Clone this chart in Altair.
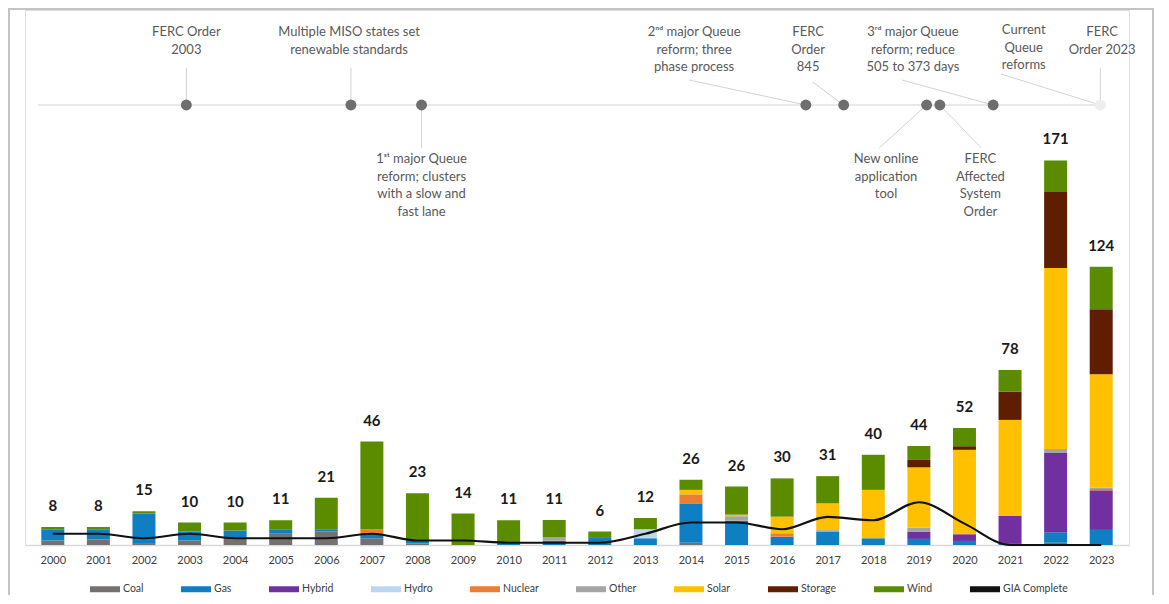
import altair as alt
import pandas as pd

# ---------------- data ----------------
years = list(range(2000, 2024))
types = ["Coal", "Gas", "Hybrid", "Hydro", "Nuclear", "Other", "Solar", "Storage", "Wind"]
colors = ["#767171", "#0f7fc4", "#7030a0", "#bdd7ee", "#ed7d31", "#a5a5a5", "#ffc000", "#5f1e00", "#5b8c00"]

coal    = [2, 2.5, 0.5, 2, 3.3, 5, 6, 3, 0.7, 0, 0, 0, 0, 0, 1, 0, 0, 0, 0, 0, 0, 0, 1, 0]
gas     = [5, 4.5, 13.5, 4, 3.1, 2, 1, 2, 1.8, 0, 1, 1.9, 3.5, 3, 17.5, 10.8, 3.7, 5.8, 3, 2.7, 1.8, 0.5, 4.6, 6.7]
hybrid  = [0] * 19 + [3.1, 3, 12.4, 35.3, 17.6]
hydro   = [0] * 13 + [4] + [0] * 10
nuclear = [0, 0, 0, 0, 0, 0, 0, 2, 0, 0, 0, 0, 0, 0, 4, 0, 1.5, 0, 0, 0, 0, 0, 0, 0.6]
other   = [0, 0, 0, 0, 0, 0, 0, 0, 0, 0, 0, 1.5, 0, 0, 0, 2, 0, 0.8, 0, 1.9, 0, 0, 1.8, 0.6]
solar   = [0] * 14 + [2, 0.7, 7.4, 11.9, 21.5, 26.8, 37.5, 42.7, 80.4, 50.4]
storage = [0] * 19 + [3.3, 1.6, 12.6, 33.8, 28.9]
wind    = [1, 1, 1, 4, 3.6, 4, 14, 39, 20.5, 14, 10, 7.7, 2.5, 5, 4.5, 12.5, 17, 12.1, 15.6, 6.2, 8.1, 9.6, 14, 18.9]

bar_labels = [8, 8, 15, 10, 10, 11, 21, 46, 23, 14, 11, 11, 6, 12, 26, 26, 30, 31, 40, 44, 52, 78, 171, 124]
gia_complete = [5, 5, 3, 5, 3, 3, 3, 5, 2, 2, 1, 1, 1, 5, 10, 10, 7, 12.5, 11, 19, 9.5, 0, 0, 0]

# timeline annotations (positions in fractional years)
ev_text = [
    "FERC Order\n2003",
    "Multiple MISO states set\nrenewable standards",
    "1ˢᵗ major Queue\nreform; clusters\nwith a slow and\nfast lane",
    "2ⁿᵈ major Queue\nreform; three\nphase process",
    "FERC\nOrder\n845",
    "New online\napplication\ntool",
    "FERC\nAffected\nSystem\nOrder",
    "3ʳᵈ major Queue\nreform; reduce\n505 to 373 days",
    "Current\nQueue\nreforms",
    "FERC\nOrder 2023",
]
ev_pos    = [2002.93, 2006.54, 2008.09, 2016.52, 2017.35, 2019.17, 2019.46, 2020.63, 2022.98, 2022.98]
ev_status = ["past"] * 8 + ["pending", "pending"]
ev_label_x = [2002.93, 2006.50, 2008.09, 2014.07, 2016.57, 2018.28, 2020.35, 2018.87, 2021.30, 2023.02]
ev_label_y = [26, 26, 153, 26, 26, 153, 153, 26, 24, 26]
ev_lead_x  = [2002.93, 2006.54, 2008.09, 2013.96, 2016.67, 2018.13, 2020.37, 2018.63, 2020.80, 2022.98]
ev_lead_y  = [58, 58, 138, 70, 72, 138, 138, 70, 64, 58]
timeline_span = [1999.67, 2022.98]

# ---------------- tables ----------------
series = dict(zip(types, [coal, gas, hybrid, hydro, nuclear, other, solar, storage, wind]))
rows = []
for i, t in enumerate(types):
    for yr, v in zip(years, series[t]):
        if v > 0:
            rows.append({"year": yr, "type": t, "value": v, "order": i})
bars_df = pd.DataFrame(rows)
totals = [sum(series[t][k] for t in types) for k in range(len(years))]
lab_df = pd.DataFrame({"year": years, "total": totals, "label": [str(v) for v in bar_labels]})
gia_df = pd.DataFrame({"year": years, "gia": gia_complete})
ev_df = pd.DataFrame({
    "pos": ev_pos, "text": ev_text, "lx": ev_label_x, "ly": ev_label_y,
    "ex": ev_lead_x, "ey": ev_lead_y,
    "dotcolor": ["#6e6e6e" if s == "past" else "#eeeeee" for s in ev_status],
})
span_df = pd.DataFrame({"start": [timeline_span[0]], "end": [timeline_span[1]]})

# ---------------- layout ----------------
W, H = 1104, 535
PAD_L, PAD_T, PAD_R, PAD_B = 17, 2, 25, 50
PX_PER_UNIT = 2.25
YMAX = H / PX_PER_UNIT
TL_Y = 95

xs = alt.Scale(domain=[1999.5, 2023.5], nice=False, zero=False)
ys = alt.Scale(domain=[0, YMAX], nice=False, zero=True)
ts = alt.Scale(domain=[0, H], reverse=True, nice=False, zero=False)

legend_domain = types + ["GIA Complete"]
legend_range = colors + ["#111111"]

x_axis = alt.Axis(values=years, format="d", title=None, ticks=False, grid=False,
                  labelPadding=9, domainColor="#d9d9d9", domainWidth=1.5,
                  labelFontSize=11, labelColor="#404040", labelFont="Lato", labelFlush=False)

bars = alt.Chart(bars_df).mark_bar(size=23).encode(
    x=alt.X("year:Q", scale=xs, axis=x_axis),
    y=alt.Y("value:Q", stack="zero", scale=ys, axis=None),
    color=alt.Color("type:N", scale=alt.Scale(domain=legend_domain, range=legend_range),
                    legend=alt.Legend(
                        title=None, orient="none", legendX=65, legendY=564,
                        direction="horizontal", columns=10,
                        symbolType="M-1,-0.2H1V0.2H-1Z", symbolSize=900,
                        symbolStrokeWidth=0, symbolOpacity=1,
                        labelFont="Lato", labelFontSize=10.5, labelColor="#404040",
                        labelOffset=3, columnPadding=37)),
    order=alt.Order("order:Q", sort="ascending"),
)

line = alt.Chart(gia_df).mark_line(color="#111111", strokeWidth=2.2, interpolate="monotone").encode(
    x=alt.X("year:Q", scale=xs),
    y=alt.Y("gia:Q", scale=ys),
)

totals_text = alt.Chart(lab_df).mark_text(font="Lato", fontWeight="bold", fontSize=15,
                                          dy=-21, color="#1a1a1a").encode(
    x=alt.X("year:Q", scale=xs),
    y=alt.Y("total:Q", scale=ys),
    text="label:N",
)

main = alt.layer(bars, line, totals_text)

tl_rule = alt.Chart(span_df).mark_rule(color="#e2e2e2", strokeWidth=1.5).encode(
    x=alt.X("start:Q", scale=xs),
    x2="end:Q",
    y=alt.value(TL_Y),
)

leaders = alt.Chart(ev_df).transform_calculate(tly=str(TL_Y)).mark_rule(color="#d3d3d3", strokeWidth=1).encode(
    x=alt.X("pos:Q", scale=xs),
    x2="ex:Q",
    y=alt.Y("tly:Q", scale=ts, axis=None),
    y2="ey:Q",
)

dots = alt.Chart(ev_df).transform_calculate(tly=str(TL_Y)).mark_circle(size=120, opacity=1).encode(
    x=alt.X("pos:Q", scale=xs),
    y=alt.Y("tly:Q", scale=ts, axis=None),
    color=alt.Color("dotcolor:N", scale=None),
)

tl_text = alt.Chart(ev_df).mark_text(font="Lato", fontSize=13, color="#595959", lineBreak="\n",
                                     lineHeight=17.5, baseline="alphabetic", align="center").encode(
    x=alt.X("lx:Q", scale=xs),
    y=alt.Y("ly:Q", scale=ts, axis=None),
    text="text:N",
)

tl = alt.layer(tl_rule, leaders, dots, tl_text)

frame = alt.Chart(pd.DataFrame({"a": [0]})).mark_rect(filled=False, stroke="#c4c4c4", strokeWidth=2).encode(
    x=alt.value(-PAD_L + 1), x2=alt.value(W + PAD_R - 1), y=alt.value(-PAD_T + 1), y2=alt.value(H + 80),
)

chart = alt.layer(main, tl, frame).resolve_scale(y="independent", color="independent").properties(
    width=W, height=H,
    autosize=alt.AutoSizeParams(type="none"),
    padding={"left": PAD_L, "top": PAD_T, "right": PAD_R, "bottom": PAD_B},
).configure_view(stroke=None).configure(font="Lato")

chart.save("out.html", embed_options={"renderer": "svg", "actions": False})
